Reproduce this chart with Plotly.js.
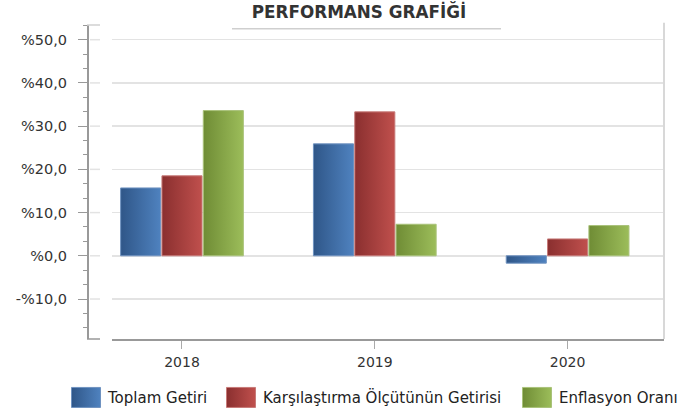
<!DOCTYPE html>
<html>
<head>
<meta charset="utf-8">
<script src="https://cdn.plot.ly/plotly-3.0.1.min.js"></script>
<style>html,body{margin:0;padding:0;background:#fff;}#chart{width:684px;height:413px;}</style>
</head>
<body>
<div id="chart"></div>
<script>
// ---- data ----
const categories = ['2018', '2019', '2020'];
const seriesNames = ['Toplam Getiri', 'Karşılaştırma Ölçütünün Getirisi', 'Enflasyon Oranı'];
const toplamGetiri = [15.7, 25.9, -1.7];
const karsilastirma = [18.5, 33.3, 3.9];
const enflasyon = [33.6, 7.3, 7.0];
const yTickVals = [-10, 0, 10, 20, 30, 40, 50];
const yTickText = ['-%10,0', '%0,0', '%10,0', '%20,0', '%30,0', '%40,0', '%50,0'];
const titleText = 'PERFORMANS GRAFİĞİ';

// ---- styling ----
const gradients = [
  ['#2f5688', '#4f82bf'],
  ['#8a2f2f', '#c0504d'],
  ['#6f8c35', '#9cbd5a']
];
const midColors = ['#3f6ca3', '#a5403e', '#86a448'];
const lineColors = ['#6f92c0', '#c77a78', '#a9c27a'];
const seriesValues = [toplamGetiri, karsilastirma, enflasyon];
const legendIds = ['legend', 'legend2', 'legend3'];
const legendTextStart = [108, 263, 559];

const L = 87, R = 20, T = 25.3, B = 73.7;
const W = 684, H = 413;
const pw = W - L - R, ph = H - T - B;
const px2x = p => (p - L) / pw;
const px2y = p => (H - B - p) / ph;

const traces = seriesValues.map((vals, i) => ({
  type: 'bar',
  name: seriesNames[i],
  x: categories,
  y: vals,
  marker: { color: midColors[i], line: { color: lineColors[i], width: 1 } },
  legend: legendIds[i],
  hoverinfo: 'skip'
}));

const font = { family: 'DejaVu Sans, Verdana, sans-serif', size: 14, color: '#333' };

const legendCfg = i => ({
  x: px2x(legendTextStart[i] - 40),
  xanchor: 'left',
  y: px2y(398),
  yanchor: 'middle',
  orientation: 'h',
  bgcolor: 'rgba(0,0,0,0)',
  borderwidth: 0,
  font: { family: font.family, size: 15, color: '#222' }
});

const shapes = [];
// title underline
shapes.push({ type: 'line', xref: 'paper', yref: 'paper', x0: px2x(232), x1: px2x(501), y0: px2y(29), y1: px2y(29), line: { color: '#cfcfcf', width: 1.5 } });
// right border
shapes.push({ type: 'line', xref: 'paper', yref: 'paper', x0: px2x(664), x1: px2x(664), y0: 0, y1: px2y(23), line: { color: '#d8d8d8', width: 2 } });
// wall caps
shapes.push({ type: 'line', xref: 'paper', yref: 'paper', x0: 0, x1: px2x(100), y0: 0, y1: 0, line: { color: '#999', width: 1.5 } });
shapes.push({ type: 'line', xref: 'paper', yref: 'paper', x0: 0, x1: px2x(100), y0: 1, y1: 1, line: { color: '#d0d0d0', width: 1.5 } });
// wall gridlines
yTickVals.forEach(v => {
  shapes.push({ type: 'line', xref: 'paper', yref: 'y', x0: px2x(90), x1: px2x(100), y0: v, y1: v, line: { color: '#e3e3e3', width: 1.5 } });
});

const layout = {
  width: W, height: H,
  margin: { l: L, r: R, t: T, b: B, autoexpand: false },
  paper_bgcolor: '#fff', plot_bgcolor: '#fff',
  font: font,
  title: {
    text: titleText,
    font: { family: 'DejaVu Sans, Verdana, sans-serif', size: 16.8, color: '#333', weight: 'bold' },
    xref: 'container', x: 359 / W, xanchor: 'center',
    yref: 'container', y: 1 - 12 / H, yanchor: 'middle',
    automargin: false
  },
  barmode: 'group',
  bargap: 0.357,
  bargroupgap: 0.03,
  showlegend: true,
  legend: legendCfg(0),
  legend2: legendCfg(1),
  legend3: legendCfg(2),
  xaxis: {
    type: 'category',
    domain: [px2x(112), 1],
    range: [-0.363, 2.5],
    showgrid: false,
    zeroline: false,
    showline: true, linecolor: '#999', linewidth: 1.5,
    ticks: 'outside', ticklen: 8, tickcolor: '#aaa', tickwidth: 1,
    ticklabelstandoff: 2,
    tickfont: { family: font.family, size: 14, color: '#333' },
    automargin: false,
    fixedrange: true
  },
  yaxis: {
    anchor: 'free', position: 0,
    range: [-19.25, 53.4],
    tickvals: yTickVals, ticktext: yTickText,
    showgrid: true, gridcolor: '#e3e3e3', gridwidth: 1.5,
    zeroline: false,
    showline: true, linecolor: '#999', linewidth: 1.5,
    ticks: 'outside', ticklen: 9, tickcolor: '#999', tickwidth: 1,
    ticklabelstandoff: 8,
    minor: { dtick: 10 / 3, ticks: 'outside', ticklen: 4, tickcolor: '#999', showgrid: false },
    tickfont: { family: font.family, size: 14.5, color: '#333' },
    automargin: false,
    fixedrange: true
  },
  shapes: shapes
};

Plotly.newPlot('chart', traces, layout, { staticPlot: true }).then(gd => {
  const svg = gd.querySelector('svg.main-svg');
  let defs = svg.querySelector('defs');
  if (!defs) { defs = document.createElementNS('http://www.w3.org/2000/svg', 'defs'); svg.insertBefore(defs, svg.firstChild); }
  gradients.forEach((g, i) => {
    const lg = document.createElementNS('http://www.w3.org/2000/svg', 'linearGradient');
    lg.setAttribute('id', 'barGrad' + i);
    lg.setAttribute('x1', '0'); lg.setAttribute('x2', '1'); lg.setAttribute('y1', '0'); lg.setAttribute('y2', '0');
    [[0, g[0]], [1, g[1]]].forEach(([o, c]) => {
      const s = document.createElementNS('http://www.w3.org/2000/svg', 'stop');
      s.setAttribute('offset', o); s.setAttribute('stop-color', c);
      lg.appendChild(s);
    });
    defs.appendChild(lg);
  });
  gd.querySelectorAll('.barlayer .trace.bars').forEach((tr, i) => {
    tr.querySelectorAll('path').forEach(p => { p.style.fill = 'url(#barGrad' + i + ')'; });
  });
  legendIds.forEach((id, i) => {
    gd.querySelectorAll('.' + id + ' .legendpoints path').forEach(p => {
      p.style.fill = 'url(#barGrad' + i + ')';
      p.setAttribute('d', 'M12.5,10H-16.5V-10H12.5Z');
      p.style.strokeWidth = '1px';
    });
  });
});
</script>
</body>
</html>
